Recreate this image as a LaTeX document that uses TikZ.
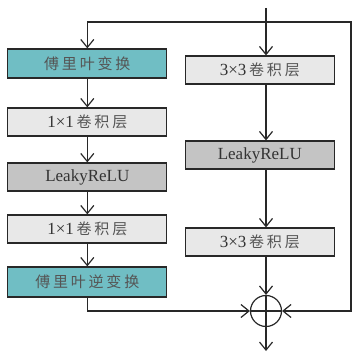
\documentclass[tikz,border=0pt]{standalone}
\usepackage{fontspec}
\setmainfont{Liberation Serif}
\newfontfamily\cjkfont{Noto Sans CJK SC}
\usetikzlibrary{arrows.meta}
\definecolor{tealbox}{RGB}{112,190,196}
\definecolor{lightbox}{RGB}{232,232,232}
\definecolor{midbox}{RGB}{196,196,196}
\definecolor{lin}{RGB}{40,40,40}
\definecolor{cjktext}{RGB}{85,85,85}
\newcommand\gs{\hspace{2.8pt}}
\newcommand\zh[1]{{\fontsize{15}{15}\selectfont\cjkfont\color{cjktext}#1}}
\begin{document}
\begin{tikzpicture}[x=1pt,y=-1pt,
  box/.style={draw=lin,line width=1.2pt,minimum height=28pt,inner sep=0pt,
     font=\fontsize{17}{17}\selectfont,text=black!80},
  lbox/.style={box,minimum width=159pt},
  rbox/.style={box,minimum width=149pt},
  arr/.style={draw=lin,line width=1.2pt,-{Straight Barb[length=8pt,width=13pt,line width=1.2pt]}},
  ln/.style={draw=lin,line width=1.2pt}]
\useasboundingbox (0,0) rectangle (352,352);
\node[lbox,fill=tealbox,minimum height=29pt] (f1) at (87.3,63.5) {\zh{傅\gs 里\gs 叶\gs 变\gs 换}};
\node[lbox,fill=lightbox] (c1) at (87.3,122) {1×1\zh{\gs 卷\gs 积\gs 层}};
\node[lbox,fill=midbox] (k1) at (87.3,177) {LeakyReLU};
\node[lbox,fill=lightbox] (c2) at (87.3,229) {1×1\zh{\gs 卷\gs 积\gs 层}};
\node[lbox,fill=tealbox,minimum height=30pt] (f2) at (87.3,282) {\zh{傅\gs 里\gs 叶\gs 逆\gs 变\gs 换}};
\node[rbox,fill=lightbox] (r1) at (259.8,70) {3×3\zh{\gs 卷\gs 积\gs 层}};
\node[rbox,fill=midbox] (r2) at (259.8,155) {LeakyReLU};
\node[rbox,fill=lightbox] (r3) at (259.8,242) {3×3\zh{\gs 卷\gs 积\gs 层}};
\node[circle,draw=lin,line width=1.2pt,minimum size=31pt,inner sep=0pt] (s) at (266,311) {};
\draw[ln] (s.north) -- (s.south) (s.west) -- (s.east);
\coordinate (in) at (266,8);
\coordinate (br) at (266,22);
\coordinate (bl) at (87.3,22);
\coordinate (rr) at (351,22);
\coordinate (out) at (266,351);
\draw[arr] (in) -- (in |- r1.north);
\draw[arr] (br) -- (bl) -- (f1.north);
\draw[arr] (br) -- (rr) -- (rr |- s.east) -- (s.east);
\draw[arr] (f1) -- (c1);
\draw[arr] (c1) -- (k1);
\draw[arr] (k1) -- (c2);
\draw[arr] (c2) -- (f2);
\draw[arr] (f2.south) |- (s.west);
\draw[arr] (in |- r1.south) -- (in |- r2.north);
\draw[arr] (in |- r2.south) -- (in |- r3.north);
\draw[arr] (in |- r3.south) -- (s.north);
\draw[arr] (s.south) -- (out);
\end{tikzpicture}
\end{document}
